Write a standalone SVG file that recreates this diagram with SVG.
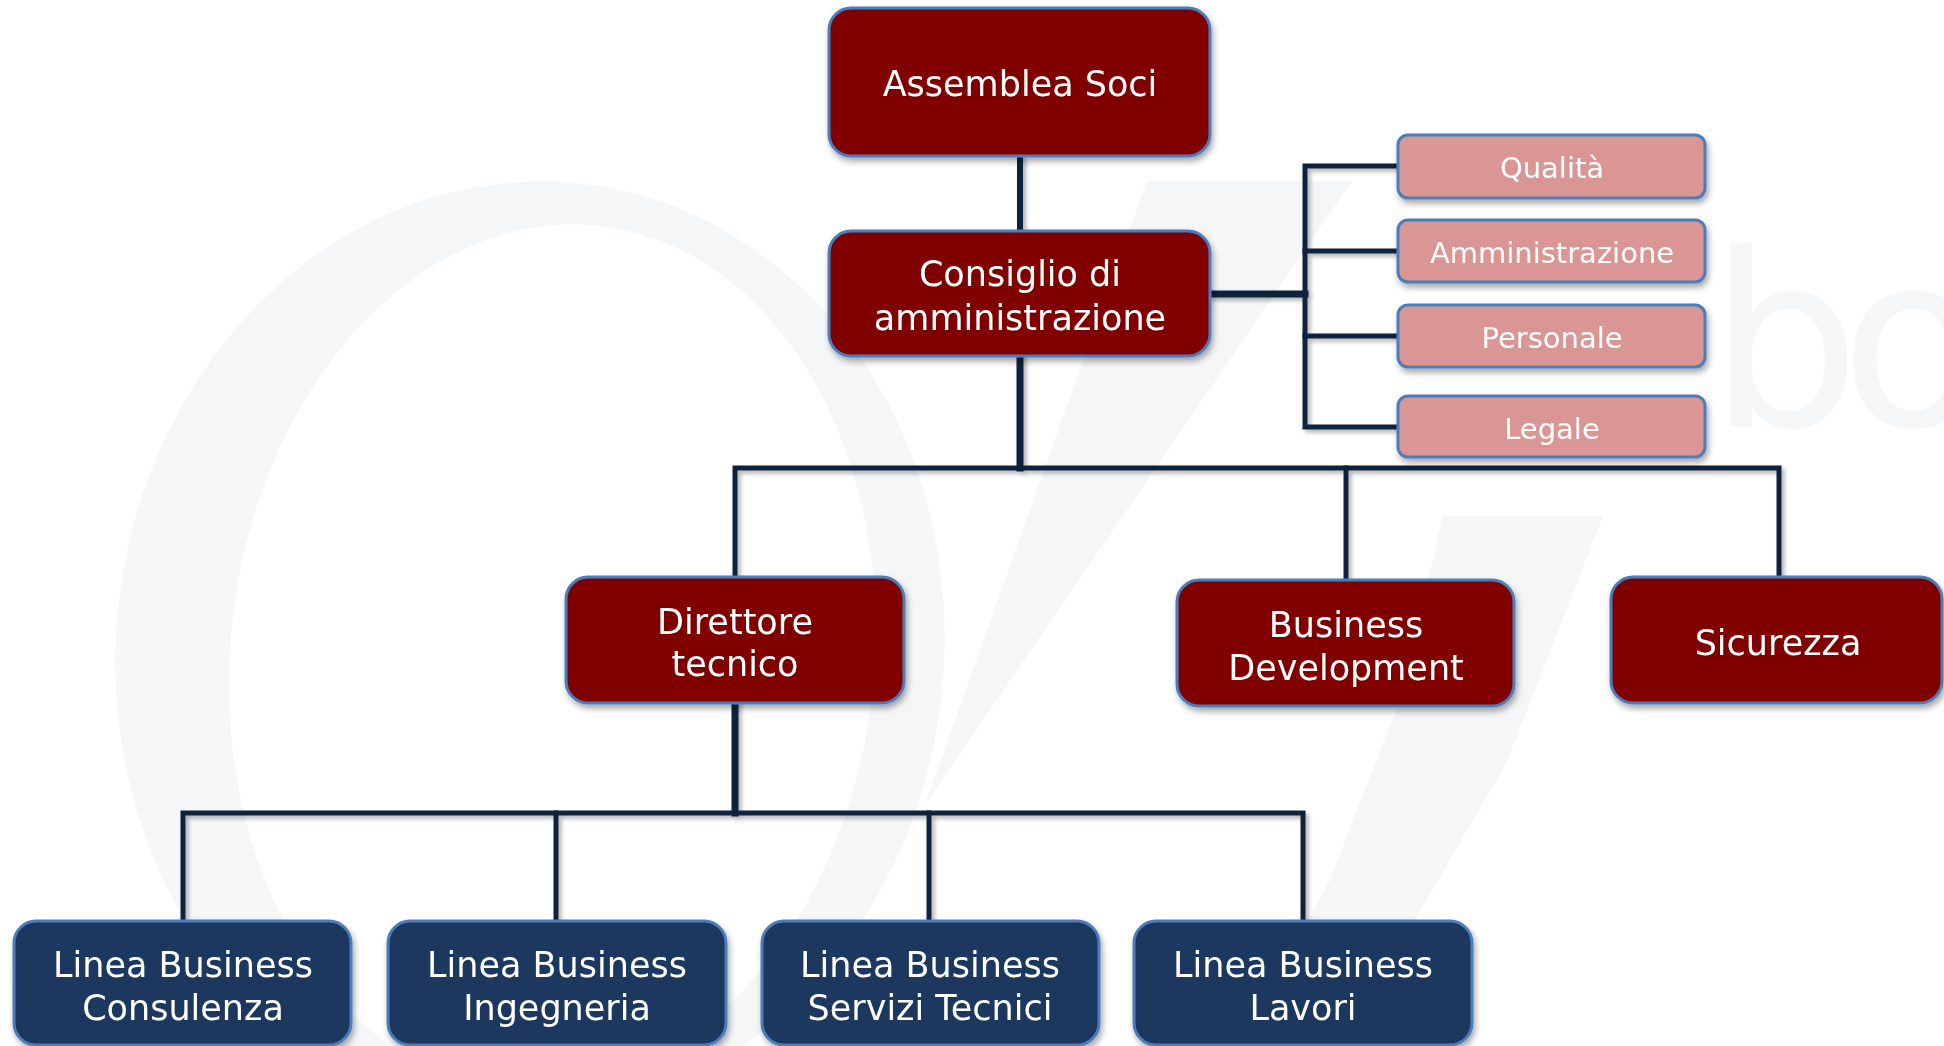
<svg xmlns="http://www.w3.org/2000/svg" width="1944" height="1046" viewBox="0 0 1944 1046">
<defs>
<style>
.red{fill:#800000;stroke:#4a7ebb;stroke-width:3}
.pink{fill:#d99694;stroke:#4a7ebb;stroke-width:3}
.navy{fill:#1b375f;stroke:#4a7ebb;stroke-width:3}
.t{font-family:"DejaVu Sans",Verdana,sans-serif;font-size:35px;fill:#ffffff;text-anchor:middle}
.ts{font-family:"DejaVu Sans",Verdana,sans-serif;font-size:29px;fill:#ffffff;text-anchor:middle}
.ln{stroke:#10243e;fill:none;stroke-linecap:square;stroke-linejoin:miter}
.wm{fill:#f5f6f8}
</style>
<filter id="sh" x="-10%" y="-10%" width="125%" height="130%">
<feDropShadow dx="2" dy="4" stdDeviation="3" flood-color="#000" flood-opacity="0.35"/>
</filter>
<filter id="lsh" x="-5%" y="-5%" width="115%" height="115%">
<feDropShadow dx="3" dy="3" stdDeviation="2" flood-color="#000" flood-opacity="0.3"/>
</filter>
</defs>
<rect width="1944" height="1046" fill="#ffffff"/>
<g id="watermark">
<path class="wm" fill-rule="evenodd" d="M116,650 A414,469 0 1,0 944,650 A414,469 0 1,0 116,650 Z M231,655 A322,434 0 1,0 875,655 A322,434 0 1,0 231,655 Z" transform="rotate(6 530 650)"/>
<polygon class="wm" points="1147,181 1352,181 925,805"/>
<polygon class="wm" points="1443,516 1603,516 1506,764 1400,945 1340,1046 1240,1046 1330,880 1400,700"/>
<text x="1708" y="426" font-family="DejaVu Sans,sans-serif" font-size="240" fill="#f5f6f8" letter-spacing="-20">bo</text>
</g>
<g id="connectors" filter="url(#lsh)">
<line class="ln" x1="1020" y1="156" x2="1020" y2="231" stroke-width="6"/>
<line class="ln" x1="1210" y1="294" x2="1305" y2="294" stroke-width="7"/>
<path class="ln" d="M1398,166 H1305 V427 H1398" stroke-width="5"/>
<line class="ln" x1="1305" y1="251" x2="1398" y2="251" stroke-width="5"/>
<line class="ln" x1="1305" y1="336" x2="1398" y2="336" stroke-width="5"/>
<line class="ln" x1="1020" y1="356" x2="1020" y2="468" stroke-width="7"/>
<path class="ln" d="M735,577 V468 H1779 V577" stroke-width="5"/>
<line class="ln" x1="1346" y1="468" x2="1346" y2="580" stroke-width="5"/>
<line class="ln" x1="735" y1="703" x2="735" y2="813" stroke-width="7"/>
<path class="ln" d="M183,921 V813 H1303 V921" stroke-width="5"/>
<line class="ln" x1="556" y1="813" x2="556" y2="921" stroke-width="5"/>
<line class="ln" x1="929" y1="813" x2="929" y2="921" stroke-width="5"/>
</g>
<g id="assemblea" filter="url(#sh)">
<rect class="red" x="829" y="8" width="381" height="148" rx="22"/>
<text class="t" x="1020" y="96">Assemblea Soci</text>
</g>
<g id="consiglio" filter="url(#sh)">
<rect class="red" x="829" y="231" width="381" height="125" rx="22"/>
<text class="t" x="1020" y="286">Consiglio di<tspan x="1020" y="330">amministrazione</tspan></text>
</g>
<g id="qualita" filter="url(#sh)">
<rect class="pink" x="1398" y="135" width="307" height="63" rx="10"/>
<text class="ts" x="1552" y="178">Qualità</text>
</g>
<g id="amministrazione" filter="url(#sh)">
<rect class="pink" x="1398" y="220" width="307" height="62" rx="10"/>
<text class="ts" x="1552" y="263">Amministrazione</text>
</g>
<g id="personale" filter="url(#sh)">
<rect class="pink" x="1398" y="305" width="307" height="62" rx="10"/>
<text class="ts" x="1552" y="348">Personale</text>
</g>
<g id="legale" filter="url(#sh)">
<rect class="pink" x="1398" y="396" width="307" height="61" rx="10"/>
<text class="ts" x="1552" y="439">Legale</text>
</g>
<g id="direttore" filter="url(#sh)">
<rect class="red" x="566" y="577" width="338" height="126" rx="22"/>
<text class="t" x="735" y="634">Direttore<tspan x="735" y="676">tecnico</tspan></text>
</g>
<g id="business-development" filter="url(#sh)">
<rect class="red" x="1177" y="580" width="337" height="126" rx="22"/>
<text class="t" x="1346" y="637">Business<tspan x="1346" y="680">Development</tspan></text>
</g>
<g id="sicurezza" filter="url(#sh)">
<rect class="red" x="1611" y="577" width="331" height="126" rx="22"/>
<text class="t" x="1778" y="655">Sicurezza</text>
</g>
<g id="lb-consulenza" filter="url(#sh)">
<rect class="navy" x="14" y="921" width="337" height="124" rx="22"/>
<text class="t" x="183" y="977">Linea Business<tspan x="183" y="1020">Consulenza</tspan></text>
</g>
<g id="lb-ingegneria" filter="url(#sh)">
<rect class="navy" x="388" y="921" width="338" height="124" rx="22"/>
<text class="t" x="557" y="977">Linea Business<tspan x="557" y="1020">Ingegneria</tspan></text>
</g>
<g id="lb-servizi" filter="url(#sh)">
<rect class="navy" x="762" y="921" width="337" height="124" rx="22"/>
<text class="t" x="930" y="977">Linea Business<tspan x="930" y="1020">Servizi Tecnici</tspan></text>
</g>
<g id="lb-lavori" filter="url(#sh)">
<rect class="navy" x="1134" y="921" width="338" height="124" rx="22"/>
<text class="t" x="1303" y="977">Linea Business<tspan x="1303" y="1020">Lavori</tspan></text>
</g>
</svg>
